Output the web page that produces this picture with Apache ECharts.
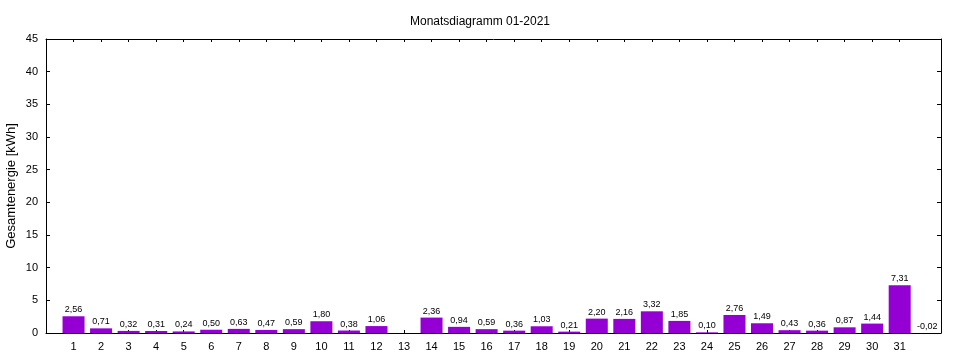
<!DOCTYPE html>
<html><head><meta charset="utf-8">
<script src="https://cdn.jsdelivr.net/npm/echarts@6/dist/echarts.min.js"></script>
<style>html,body{margin:0;padding:0;background:#fff}#c{width:960px;height:360px}</style>
</head><body><div id="c"></div>
<script>
const titleText = 'Monatsdiagramm 01-2021';
const yName = 'Gesamtenergie [kWh]';
const days = [1,2,3,4,5,6,7,8,9,10,11,12,13,14,15,16,17,18,19,20,21,22,23,24,25,26,27,28,29,30,31,32];
const values = [2.56,0.71,0.32,0.31,0.24,0.50,0.63,0.47,0.59,1.80,0.38,1.06,null,2.36,0.94,0.59,0.36,1.03,0.21,2.20,2.16,3.32,1.85,0.10,2.76,1.49,0.43,0.36,0.87,1.44,7.31,-0.02];
const tickDays = days.slice(0, 31);
const yTicks = [0,5,10,15,20,25,30,35,40,45];

const font = 'Liberation Sans, Arial, sans-serif';
const chart = echarts.init(document.getElementById('c'), null, {renderer:'canvas'});
const axisLine = {show:true, onZero:false, lineStyle:{color:'#000', width:1}};
chart.setOption({
  animation:false,
  title:{text:titleText, left:'center', top:11, textStyle:{fontFamily:font, fontSize:12, fontWeight:'normal', color:'#000'}},
  grid:{left:46, right:19, top:39, bottom:27, outerBoundsMode:'none', containLabel:false},
  xAxis:[
    {type:'value', min:0, max:32.5, position:'bottom', axisLine,
     axisTick:{show:true, inside:true, length:3, customValues:tickDays, lineStyle:{color:'#000'}},
     axisLabel:{customValues:tickDays, color:'#000', fontFamily:font, fontSize:11, margin:8},
     splitLine:{show:false}},
    {type:'value', min:0, max:32.5, position:'top', axisLine,
     axisTick:{show:true, inside:true, length:3, customValues:tickDays, lineStyle:{color:'#000'}},
     axisLabel:{show:false}, splitLine:{show:false}}
  ],
  yAxis:[
    {type:'value', min:0, max:45, interval:5, position:'left', axisLine,
     name:yName, nameLocation:'middle', nameGap:28, nameRotate:90, nameMoveOverlap:false,
     nameTextStyle:{fontFamily:font, fontSize:13, color:'#000'},
     axisTick:{show:true, inside:true, length:4, lineStyle:{color:'#000'}},
     axisLabel:{color:'#000', fontFamily:font, fontSize:11, margin:8},
     splitLine:{show:false}},
    {type:'value', min:0, max:45, interval:5, position:'right', axisLine,
     axisTick:{show:true, inside:true, length:4, lineStyle:{color:'#000'}},
     axisLabel:{show:false}, splitLine:{show:false}}
  ],
  series:[{
    type:'bar', xAxisIndex:0, yAxisIndex:0, barWidth:22,
    itemStyle:{color:'#9400D3'},
    data: days.map((d,i)=>[d, values[i]]),
    label:{show:true, position:'top', distance:2, color:'#000', fontFamily:font, fontSize:9,
      formatter:p=> p.value[1]==null ? '' : p.value[1].toFixed(2).replace('.', ',')}
  }]
});
</script></body></html>
